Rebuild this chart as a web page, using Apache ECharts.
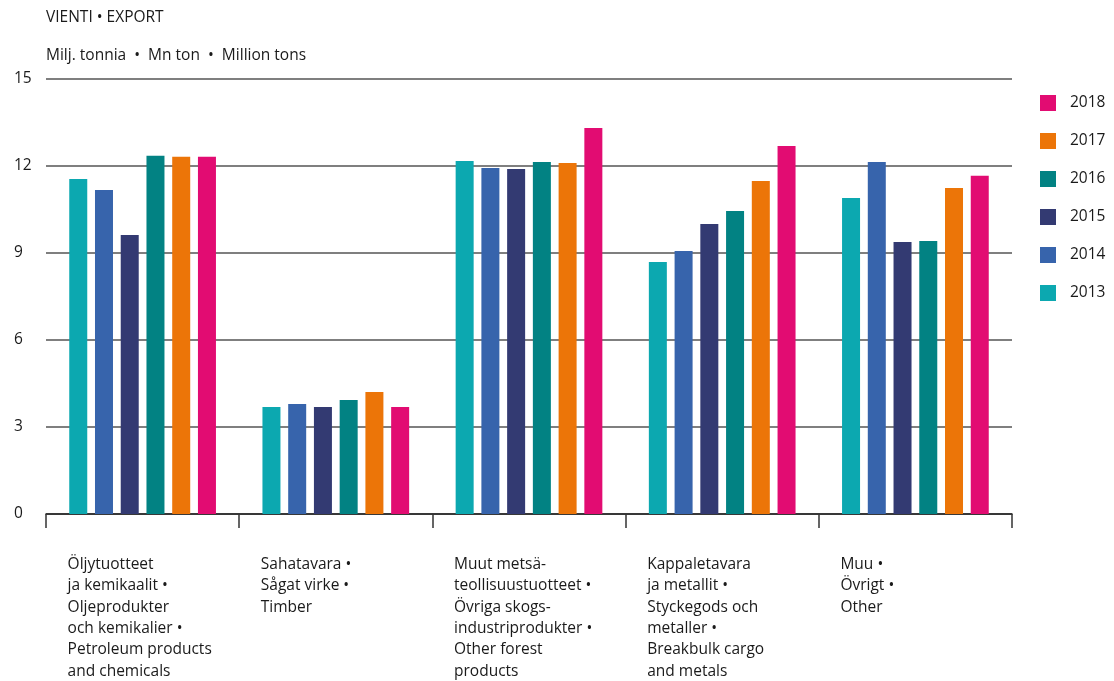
<!DOCTYPE html>
<html>
<head>
<meta charset="utf-8">
<script src="https://cdn.jsdelivr.net/npm/echarts@6/dist/echarts.min.js"></script>
<style>
  html, body { margin: 0; padding: 0; background: #fff; }
  #chart { width: 1114px; height: 681px; }
</style>
</head>
<body>
<div id="chart"></div>
<script>
// categories (label lines joined with \n)
var categories = [
  'Öljytuotteet\nja kemikaalit •\nOljeprodukter\noch kemikalier •\nPetroleum products\nand chemicals',
  'Sahatavara •\nSågat virke •\nTimber',
  'Muut metsä-\nteollisuustuotteet •\nÖvriga skogs-\nindustriprodukter •\nOther forest\nproducts',
  'Kappaletavara\nja metallit •\nStyckegods och\nmetaller •\nBreakbulk cargo\nand metals',
  'Muu •\nÖvrigt •\nOther'
]

var years = ['2013', '2014', '2015', '2016', '2017', '2018']
var colors = ['#0ca8b0', '#3764ac', '#333a72', '#028283', '#ec7508', '#e20c72']

// Milj. tonnia, per year
var data2013 = [11.55, 3.69, 12.17, 8.69, 10.9]
var data2014 = [11.17, 3.79, 11.93, 9.07, 12.14]
var data2015 = [9.62, 3.69, 11.9, 10.0, 9.38]
var data2016 = [12.35, 3.93, 12.14, 10.45, 9.41]
var data2017 = [12.32, 4.21, 12.1, 11.48, 11.24]
var data2018 = [12.32, 3.69, 13.31, 12.69, 11.66]
var allData = [data2013, data2014, data2015, data2016, data2017, data2018]

var yTicks = [0, 3, 6, 9, 12, 15]

var font = '"Open Sans", "DejaVu Sans", sans-serif'
var fs = 15.5

var chart = echarts.init(document.getElementById('chart'))

var series = years.map(function (y, i) {
  return {
    name: y,
    type: 'bar',
    data: allData[i],
    barWidth: 18,
    barGap: '43%',
    z: 3,
    itemStyle: { color: colors[i] }
  }
})

chart.setOption({
  animation: false,
  textStyle: { fontFamily: font },
  title: [
    {
      text: 'VIENTI • EXPORT',
      left: 41, top: 5,
      textStyle: { fontSize: fs, fontWeight: 'normal', color: '#1a1a1a', fontFamily: font }
    },
    {
      text: 'Milj. tonnia  •  Mn ton  •  Million tons',
      left: 41, top: 43,
      textStyle: { fontSize: fs, fontWeight: 'normal', color: '#1a1a1a', fontFamily: font }
    }
  ],
  legend: {
    orient: 'vertical',
    left: 1035,
    top: 90,
    itemWidth: 16,
    itemHeight: 16,
    itemGap: 22,
    icon: 'rect',
    data: years.slice().reverse(),
    textStyle: { fontSize: fs, color: '#1a1a1a', padding: [0, 0, 0, 9], fontFamily: font }
  },
  grid: {
    left: 46,
    right: 102,
    top: 79,
    bottom: 167
  },
  xAxis: {
    type: 'category',
    data: categories,
    axisLine: { lineStyle: { color: '#222', width: 1.5 } },
    axisTick: { show: true, length: 14, lineStyle: { color: '#333', width: 1.5 } },
    axisLabel: {
      interval: 0,
      margin: 40,
      align: 'center',
      formatter: function (v) {
        return v.split('\n').map(function (s) { return '{a|' + s + '}' }).join('\n')
      },
      rich: {
        a: {
          width: 150,
          align: 'left',
          fontSize: fs,
          lineHeight: 21.3,
          color: '#1a1a1a',
          fontFamily: font
        }
      }
    }
  },
  yAxis: {
    type: 'value',
    min: yTicks[0],
    max: yTicks[yTicks.length - 1],
    interval: 3,
    axisLine: { show: false },
    axisTick: { show: false },
    axisLabel: {
      align: 'left',
      margin: 32,
      fontSize: fs,
      color: '#1a1a1a',
      fontFamily: font
    },
    splitLine: { lineStyle: { color: '#555', width: 1.5 } }
  },
  series: series
})
</script>
</body>
</html>
